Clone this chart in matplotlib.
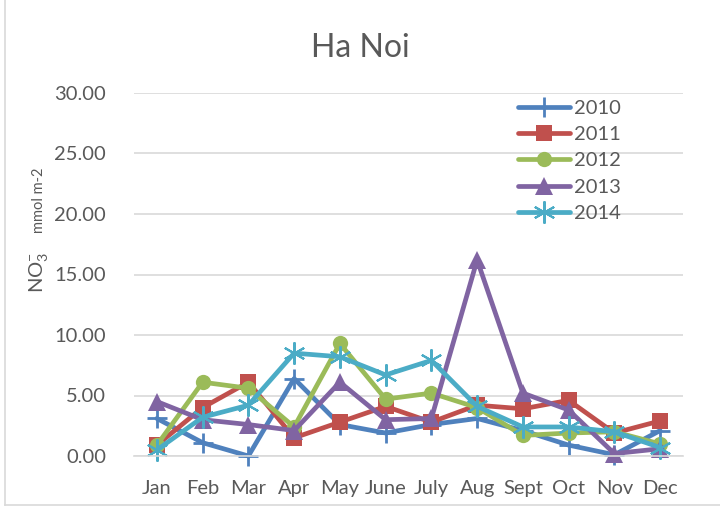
import matplotlib
matplotlib.use("Agg")
import matplotlib.pyplot as plt
from matplotlib.lines import Line2D

months = ["Jan", "Feb", "Mar", "Apr", "May", "June", "July", "Aug", "Sept", "Oct", "Nov", "Dec"]
years = ["2010", "2011", "2012", "2013", "2014"]
v2010 = [3.1, 1.1, 0.0, 6.4, 2.6, 1.9, 2.6, 3.1, 2.1, 0.9, 0.1, 2.1]
v2011 = [0.9, 4.0, 6.1, 1.5, 2.8, 4.1, 2.8, 4.2, 3.9, 4.6, 1.9, 2.9]
v2012 = [0.9, 6.1, 5.6, 2.4, 9.3, 4.7, 5.2, 4.0, 1.7, 1.9, 2.0, 1.0]
v2013 = [4.5, 3.0, 2.6, 2.1, 6.1, 3.0, 3.1, 16.2, 5.2, 3.8, 0.2, 0.6]
v2014 = [0.5, 3.2, 4.2, 8.5, 8.2, 6.7, 7.9, 4.1, 2.4, 2.4, 2.0, 0.7]
yticks = [0, 5, 10, 15, 20, 25, 30]

plt.rcParams['font.family'] = ['Lato', 'DejaVu Sans']
plt.rcParams['mathtext.fontset'] = 'custom'
plt.rcParams['mathtext.rm'] = 'Lato'
plt.rcParams['mathtext.it'] = 'Lato:italic'
plt.rcParams['mathtext.bf'] = 'Lato:bold'
txt = '#595959'

fig = plt.figure(figsize=(7.2, 5.14), dpi=100)
ax = fig.add_axes([134/720, 1-456/514, (683-134)/720, (456-93)/514])

styles = [
    dict(color='#4F81BD', marker='+', ms=14, mew=2),
    dict(color='#C0504D', marker='s', ms=12, mew=0),
    dict(color='#9BBB59', marker='o', ms=11, mew=0),
    dict(color='#8064A2', marker='^', ms=13, mew=0),
    dict(color='#4BACC6', marker=(6, 2, 0), ms=16, mew=1.5),
]
series = [v2010, v2011, v2012, v2013, v2014]
x = list(range(len(months)))
handles = []
for name, vals, st in zip(years, series, styles):
    h, = ax.plot(x, vals, lw=3.4, color=st['color'], marker=st['marker'], ms=st['ms'],
                 mew=st['mew'], mec=st['color'], mfc=st['color'], label=name,
                 solid_joinstyle='round', solid_capstyle='round', clip_on=False)
    handles.append(h)

ax.set_xlim(-0.5, 11.5)
ax.set_ylim(0, 30)
ax.set_xticks(x)
ax.set_xticklabels(months)
ax.set_yticks(yticks)
ax.set_yticklabels([f"{t:.2f}" for t in yticks])
ax.tick_params(axis='both', length=0, labelsize=14.5, colors=txt)
ax.tick_params(axis='y', pad=20)
ax.tick_params(axis='x', pad=17)
ax.grid(axis='y', color='#d9d9d9', lw=1.2)
ax.set_axisbelow(True)
for s in ['top', 'right', 'left']:
    ax.spines[s].set_visible(False)
ax.spines['bottom'].set_color('#d9d9d9')
ax.spines['bottom'].set_linewidth(1.2)

fig.text(0.5, 1-48/514, "Ha Noi", ha='center', va='center', fontsize=23, color=txt)

fig.text(43/720, 1-293/514, r"NO$_{3}^{-}$", rotation=90, rotation_mode='anchor',
         ha='left', va='baseline', fontsize=14.5, color=txt)
fig.text(43/720, 1-233/514, "mmol m-2", rotation=90, rotation_mode='anchor',
         ha='left', va='baseline', fontsize=10.5, color=txt)

leg = ax.legend(handles=handles, loc='upper left', bbox_to_anchor=(518/720, 1-100/514),
                bbox_transform=fig.transFigure, frameon=False, fontsize=14.5,
                handlelength=2.6, handletextpad=0.2, labelspacing=0.45,
                borderpad=0, borderaxespad=0)
for t in leg.get_texts():
    t.set_color(txt)

# chart border
fig.add_artist(Line2D([5/720, 5/720], [1-505/514, 1.0], transform=fig.transFigure, color='#d9d9d9', lw=1.2))
fig.add_artist(Line2D([5/720, 1.0], [1-505/514, 1-505/514], transform=fig.transFigure, color='#d9d9d9', lw=1.2))

fig.savefig("out.png", dpi=100)
